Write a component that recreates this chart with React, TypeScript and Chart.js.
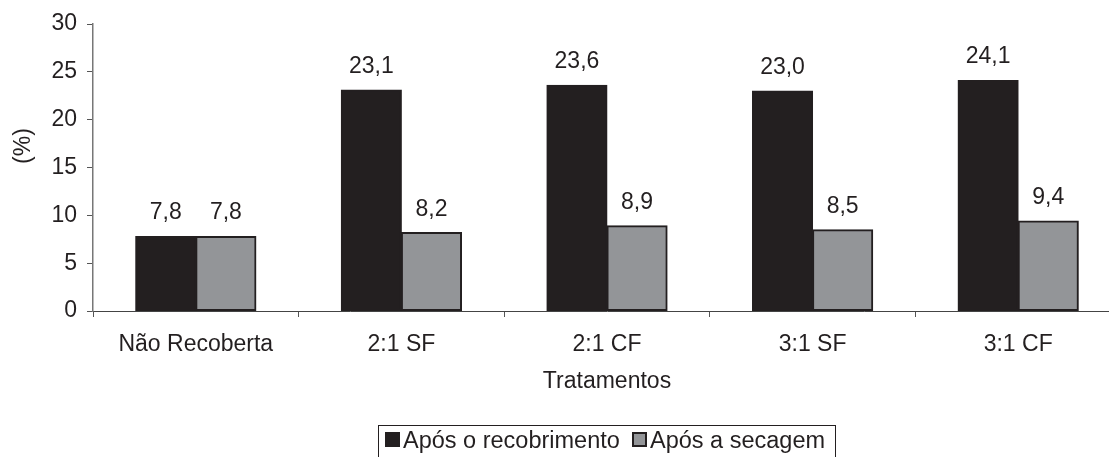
import React, { useEffect, useRef } from 'react';
import { Chart, registerables } from 'chart.js';

Chart.register(...registerables);

const FONT_FAMILY = '"Liberation Sans", Arial, sans-serif';
const INK = '#231f20';
const DARK = '#231f20';
const GRAY = '#939598';

const categories = ['Não Recoberta', '2:1 SF', '2:1 CF', '3:1 SF', '3:1 CF'];
const aposRecobrimento = [7.8, 23.1, 23.6, 23.0, 24.1];
const aposSecagem = [7.8, 8.2, 8.9, 8.5, 9.4];
const yTicks = [0, 5, 10, 15, 20, 25, 30];
const seriesNames = ['Após o recobrimento', 'Após a secagem'];

const fmt = (v: number) => v.toFixed(1).replace('.', ',');

// Value labels, axis titles and the boxed legend at the bottom
const annotations = {
  id: 'annotations',
  afterDraw(chart: any) {
    const ctx = chart.ctx;
    const area = chart.chartArea;
    ctx.save();
    ctx.font = `23px ${FONT_FAMILY}`;
    ctx.fillStyle = INK;

    // values above bars
    ctx.textAlign = 'center';
    ctx.textBaseline = 'alphabetic';
    chart.data.datasets.forEach((ds: any, di: number) => {
      const meta = chart.getDatasetMeta(di);
      meta.data.forEach((bar: any, i: number) => {
        ctx.fillText(fmt(ds.data[i]), bar.x, bar.y - 17);
      });
    });

    // x axis title
    ctx.textBaseline = 'middle';
    ctx.fillText('Tratamentos', (area.left + area.right) / 2, 382);

    // y axis title
    ctx.save();
    ctx.translate(24, 146);
    ctx.rotate(-Math.PI / 2);
    ctx.fillText('(%)', 0, 0);
    ctx.restore();

    // legend
    ctx.strokeStyle = INK;
    ctx.lineWidth = 1;
    ctx.strokeRect(378.5, 425.5, 457, 60);
    const items = [
      { x: 385, color: DARK, label: seriesNames[0] },
      { x: 632, color: GRAY, label: seriesNames[1] },
    ];
    ctx.textAlign = 'left';
    ctx.textBaseline = 'alphabetic';
    ctx.font = `23.5px ${FONT_FAMILY}`;
    items.forEach((it) => {
      ctx.fillStyle = it.color;
      ctx.fillRect(it.x, 432, 15, 15);
      ctx.lineWidth = 2;
      ctx.strokeStyle = INK;
      ctx.strokeRect(it.x + 1, 433, 13, 13);
      ctx.fillStyle = INK;
      ctx.fillText(it.label, it.x + 18, 448);
    });
    ctx.restore();
  },
};

export default function App() {
  const ref = useRef<HTMLCanvasElement>(null);

  useEffect(() => {
    if (!ref.current) return;
    const chart = new Chart(ref.current, {
      type: 'bar',
      data: {
        labels: categories,
        datasets: [
          {
            label: seriesNames[0],
            data: aposRecobrimento,
            backgroundColor: DARK,
            borderColor: INK,
            borderWidth: 2,
            borderSkipped: false,
            inflateAmount: 0.5,
          },
          {
            label: seriesNames[1],
            data: aposSecagem,
            backgroundColor: GRAY,
            borderColor: INK,
            borderWidth: 2,
            borderSkipped: false,
            inflateAmount: 0.5,
          },
        ],
      },
      options: {
        responsive: false,
        animation: false,
        layout: { padding: { top: 24, left: 0, right: 0, bottom: 0 } },
        datasets: { bar: { barPercentage: 1, categoryPercentage: 0.585 } },
        plugins: {
          legend: { display: false },
          tooltip: { enabled: false },
        },
        scales: {
          x: {
            offset: true,
            grid: {
              offset: true,
              drawOnChartArea: false,
              drawTicks: true,
              tickLength: 6,
              color: '#555',
            },
            border: { color: '#444', width: 1 },
            ticks: {
              color: INK,
              padding: 14,
              font: { family: FONT_FAMILY, size: 23 },
              maxRotation: 0,
            },
            afterFit(scale: any) {
              scale.height = 146;
            },
          },
          y: {
            min: 0,
            max: 30,
            afterBuildTicks(scale: any) {
              scale.ticks = yTicks.map((v) => ({ value: v }));
            },
            grid: {
              drawOnChartArea: false,
              drawTicks: true,
              tickLength: 6,
              color: '#555',
            },
            border: { color: '#777', width: 1.5 },
            ticks: {
              color: INK,
              padding: 10,
              font: { family: FONT_FAMILY, size: 23 },
            },
            afterFit(scale: any) {
              scale.width = 93;
            },
          },
        },
      },
      plugins: [annotations],
    });
    return () => chart.destroy();
  }, []);

  return (
    <div
      style={{
        position: 'absolute',
        left: 0,
        top: 0,
        width: 1109,
        height: 457,
        overflow: 'hidden',
        background: '#fff',
      }}
    >
      <canvas ref={ref} width={1121} height={457} style={{ width: 1121, height: 457, display: 'block' }} />
    </div>
  );
}
